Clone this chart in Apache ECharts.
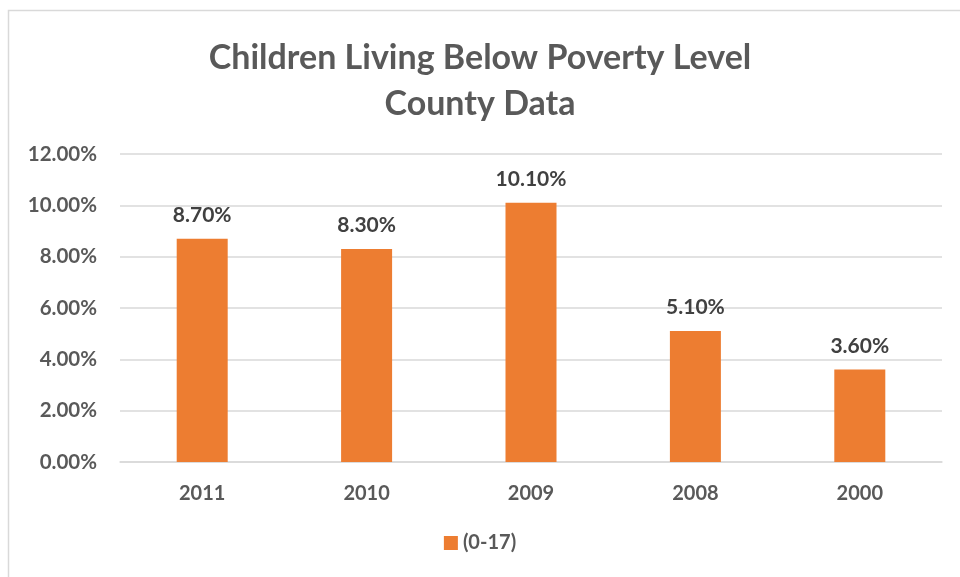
<!DOCTYPE html>
<html><head><meta charset="utf-8">
<script src="https://cdn.jsdelivr.net/npm/echarts@6/dist/echarts.min.js"></script>
<style>html,body{margin:0;padding:0;background:#fff}#c{width:960px;height:577px}</style>
</head><body><div id="c"></div>
<script>
const categories = ['2011', '2010', '2009', '2008', '2000'];
const values = [8.7, 8.3, 10.1, 5.1, 3.6];
const seriesName = '(0-17)';
const titleLines = ['Children Living Below Poverty Level', 'County Data'];

const FONT = 'Lato';
const chart = echarts.init(document.getElementById('c'), null, {renderer: 'canvas'});
chart.setOption({
  animation: false,
  backgroundColor: '#fff',
  graphic: [{
    type: 'rect', silent: true,
    shape: {x: 8.5, y: 10.5, width: 1000, height: 1000},
    style: {fill: 'none', stroke: '#d9d9d9', lineWidth: 1.5}
  }],
  title: {
    text: titleLines.join('\n'),
    left: 'center', top: 30,
    textStyle: {fontFamily: FONT, fontWeight: 'bold', fontSize: 34, color: '#595959', lineHeight: 46}
  },
  grid: {left: 120, right: 18, top: 154, bottom: 115, containLabel: false},
  legend: {
    bottom: 19, left: 'center',
    itemWidth: 14, itemHeight: 14, itemGap: 6,
    icon: 'rect',
    textStyle: {fontFamily: FONT, fontWeight: 'bold', fontSize: 20, color: '#595959'},
    data: [seriesName]
  },
  xAxis: {
    type: 'category', data: categories,
    axisLine: {lineStyle: {color: '#d9d9d9', width: 1.5}},
    axisTick: {show: false},
    axisLabel: {fontFamily: FONT, fontWeight: 'bold', fontSize: 20, color: '#595959', margin: 22}
  },
  yAxis: {
    type: 'value', min: 0, max: 12, interval: 2,
    axisLine: {show: false}, axisTick: {show: false},
    splitLine: {lineStyle: {color: '#d9d9d9', width: 1.5}},
    axisLabel: {fontFamily: FONT, fontWeight: 'bold', fontSize: 20.5, color: '#595959', margin: 23,
      formatter: v => v.toFixed(2) + '%'}
  },
  series: [{
    name: seriesName, type: 'bar', data: values, barWidth: 51,
    itemStyle: {color: '#ED7D31'},
    label: {show: true, position: 'top', distance: 13,
      fontFamily: FONT, fontWeight: 'bold', fontSize: 21, color: '#404040',
      formatter: p => p.value.toFixed(2) + '%'}
  }]
});
</script></body></html>
